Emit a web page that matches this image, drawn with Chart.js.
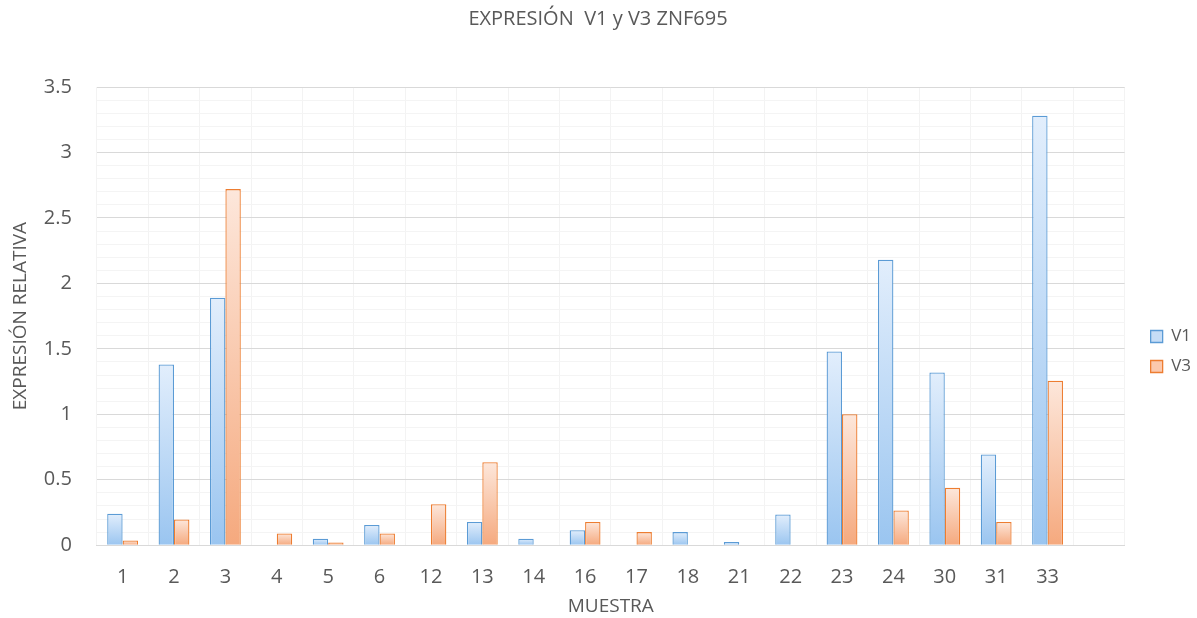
<!DOCTYPE html>
<html>
<head>
<meta charset="utf-8">
<script src="https://cdn.jsdelivr.net/npm/chart.js@4.4.1/dist/chart.umd.min.js"></script>
<style>
  html, body { margin: 0; padding: 0; background: #ffffff; }
  #wrap { width: 1197px; height: 618px; position: relative; }
</style>
</head>
<body>
<div id="wrap"><canvas id="c" width="1197" height="618"></canvas></div>
<script>
// Sample numbers (the last slot is an empty category in the layout)
const muestras = ['1','2','3','4','5','6','12','13','14','16','17','18','21','22','23','24','30','31','33',''];
// Relative expression per sample
const v1 = [0.24, 1.38, 1.89, null, 0.05, 0.155, null, 0.178, 0.05, 0.115, null, 0.10, 0.025, 0.234, 1.48, 2.18, 1.32, 0.693, 3.28, null];
const v3 = [0.036, 0.196, 2.72, 0.09, 0.02, 0.09, 0.313, 0.634, null, 0.178, 0.10, null, null, null, 1.0, 0.265, 0.438, 0.178, 1.256, null];
const yTicks = [0, 0.5, 1, 1.5, 2, 2.5, 3, 3.5];

const FONT = '"Open Sans", Lato, sans-serif';
const GRAY = '#595959';
const CLEAR = 'rgba(0,0,0,0)';
const LEGEND_GAP = 13; // extra space between plot and legend

// Vertical gradient per bar, light at the top and richer at the base
function barGradient(top, bottom) {
  return (ctx) => {
    const chart = ctx.chart;
    const ys = chart.scales && chart.scales.y;
    if (!ys || ctx.parsed == null || ctx.parsed.y == null) return bottom;
    const yTop = ys.getPixelForValue(ctx.parsed.y);
    const yBase = ys.getPixelForValue(0);
    if (!isFinite(yTop) || !isFinite(yBase) || yTop === yBase) return bottom;
    const g = chart.ctx.createLinearGradient(0, yTop, 0, yBase);
    g.addColorStop(0, top);
    g.addColorStop(1, bottom);
    return g;
  };
}

// Shift the legend a little to the right of the plot area
const legendShift = {
  id: 'legendShift',
  afterLayout(chart) {
    const lg = chart.legend;
    if (lg) { lg.left += LEGEND_GAP; lg.right += LEGEND_GAP; }
  }
};

new Chart(document.getElementById('c'), {
  type: 'bar',
  data: {
    labels: muestras,
    datasets: [
      {
        label: 'V1',
        data: v1,
        backgroundColor: barGradient('#e2eefc', '#9ac5f0'),
        borderColor: '#5b9bd5',
        borderWidth: 1.3,
        borderSkipped: 'bottom'
      },
      {
        label: 'V3',
        data: v3,
        backgroundColor: barGradient('#fde7db', '#f5a97e'),
        borderColor: '#ed7d31',
        borderWidth: 1.3,
        borderSkipped: 'bottom'
      }
    ]
  },
  plugins: [legendShift],
  options: {
    responsive: false,
    animation: false,
    devicePixelRatio: 1,
    layout: { padding: { left: 8, right: 9, top: 0, bottom: 0 } },
    datasets: { bar: { categoryPercentage: 0.6, barPercentage: 1.0 } },
    plugins: {
      title: {
        display: true,
        text: 'EXPRESIÓN  V1 y V3 ZNF695',
        color: GRAY,
        font: { family: FONT, size: 20, weight: 'normal' },
        padding: { top: 7, bottom: 56 }
      },
      legend: {
        position: 'right',
        align: 'center',
        title: { display: true, text: ' ', padding: { top: 50, bottom: 23 }, font: { size: 10 } },
        labels: {
          color: GRAY,
          font: { family: FONT, size: 17 },
          boxWidth: 12,
          boxHeight: 12,
          padding: 13,
          generateLabels: (chart) => chart.data.datasets.map((ds, i) => ({
            text: ds.label,
            fillStyle: i === 0 ? '#c6ddf6' : '#fbc9ae',
            strokeStyle: ds.borderColor,
            lineWidth: 1.3,
            fontColor: GRAY,
            datasetIndex: i
          }))
        }
      },
      tooltip: { enabled: false }
    },
    scales: {
      x: {
        grid: { color: '#f3f3f3', lineWidth: 1, drawTicks: true, tickLength: 20, tickColor: CLEAR },
        border: { display: true, color: '#d9d9d9' },
        ticks: { color: GRAY, font: { family: FONT, size: 20 }, padding: 0, maxRotation: 0, autoSkip: false },
        title: {
          display: true,
          text: 'MUESTRA',
          color: GRAY,
          font: { family: FONT, size: 19 },
          padding: { top: 6, bottom: 0 }
        }
      },
      y: {
        min: 0,
        max: 3.5,
        afterBuildTicks: (axis) => {
          const t = [];
          for (let i = 0; i <= 35; i++) t.push({ value: i / 10 });
          axis.ticks = t;
        },
        grid: {
          drawTicks: true,
          tickLength: 25,
          tickColor: CLEAR,
          color: (c) => {
            const v = c.tick ? c.tick.value : 0;
            return yTicks.some(m => Math.abs(m - v) < 1e-6) ? '#d9d9d9' : '#f4f4f4';
          },
          lineWidth: 1
        },
        border: { display: false },
        ticks: {
          autoSkip: false,
          color: GRAY,
          font: { family: FONT, size: 20 },
          padding: 0,
          callback: (value) => {
            const m = yTicks.find(t => Math.abs(t - value) < 1e-6);
            return m === undefined ? '' : String(m);
          }
        },
        title: {
          display: true,
          text: 'EXPRESIÓN RELATIVA',
          color: GRAY,
          font: { family: FONT, size: 19 },
          padding: { top: 1, bottom: 12 }
        }
      }
    }
  }
});
</script>
</body>
</html>
